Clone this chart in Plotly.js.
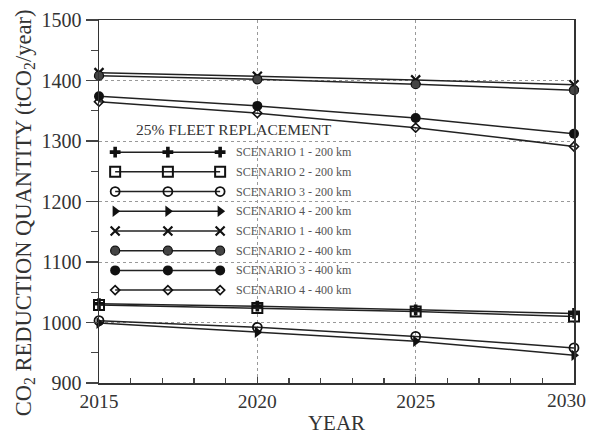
<!DOCTYPE html>
<html><head><meta charset="utf-8">
<script src="https://cdn.plot.ly/plotly-3.0.1.min.js"></script>
<style>html,body{margin:0;padding:0;background:#fff}#c{width:590px;height:444px}</style>
</head><body><div id="c"></div>
<script>
const years = [2015, 2020, 2025, 2030];
const yearLabels = ["2015", "2020", "2025", "2030"];
const names = ["SCENARIO 1 - 200 km","SCENARIO 2 - 200 km","SCENARIO 3 - 200 km","SCENARIO 4 - 200 km",
               "SCENARIO 1 - 400 km","SCENARIO 2 - 400 km","SCENARIO 3 - 400 km","SCENARIO 4 - 400 km"];
const s1_200 = [1031, 1027, 1021, 1015];
const s2_200 = [1029, 1024, 1018, 1010];
const s3_200 = [1003, 992, 977, 958];
const s4_200 = [999, 984, 969, 946];
const s1_400 = [1413, 1407, 1401, 1393];
const s2_400 = [1408, 1402, 1394, 1384];
const s3_400 = [1374, 1358, 1338, 1312];
const s4_400 = [1365, 1346, 1322, 1291];
const series = [s1_200, s2_200, s3_200, s4_200, s1_400, s2_400, s3_400, s4_400];
const legendTitle = "25% FLEET REPLACEMENT";
const yTitle = 'CO<sub>2</sub> REDUCTION QUANTITY (tCO<sub>2</sub>/year)';

const styles = [
  {symbol:'cross', size:9, color:'#111', line:{width:0}},
  {symbol:'square-open', size:10, color:'#111', line:{width:2}},
  {symbol:'circle-open', size:9, color:'#111', line:{width:1.8}},
  {symbol:'triangle-right', size:10, color:'#111', line:{width:0}},
  {symbol:'x-thin-open', size:9, color:'#111', line:{width:2.2}},
  {symbol:'circle', size:9, color:'#444', line:{width:1.2, color:'#111'}},
  {symbol:'circle', size:10, color:'#111', line:{width:0}},
  {symbol:'diamond-open', size:7, color:'#111', line:{width:1.6}}
];

const traces = [];
series.forEach((s, i) => {
  traces.push({x: years, y: s, type:'scatter', mode:'lines+markers', name:names[i], showlegend:false,
    line:{color:'#222', width:1.5}, marker:Object.assign({}, styles[i], {line:Object.assign({color:'#111'}, styles[i].line)}),
    cliponaxis:false});
});

// legend samples drawn on a hidden overlay axis (fractions of plot area)
const legX = [0.034, 0.145, 0.255];
const legY0 = 0.636, legDy = 0.0543;
const annotations = [];
names.forEach((n, i) => {
  const yy = legY0 - i*legDy;
  traces.push({x: legX, y: [yy, yy, yy], xaxis:'x2', yaxis:'y2', type:'scatter', mode:'lines+markers', showlegend:false,
    hoverinfo:'skip', line:{color:'#222', width:1.5}, marker:Object.assign({}, styles[i], {line:Object.assign({color:'#111'}, styles[i].line)})});
  annotations.push({xref:'x2', yref:'y2', x:0.285, y:yy, text:n, showarrow:false, xanchor:'left', yanchor:'middle',
    font:{family:'Liberation Serif, serif', size:12, color:'#555'}});
});
annotations.push({xref:'x2', yref:'y2', x:0.285, y:0.697, text:legendTitle, showarrow:false, xanchor:'center', yanchor:'middle',
  font:{family:'Liberation Serif, serif', size:15.5, color:'#333'}});
// last x tick label, nudged left so it stays inside the page
annotations.push({xref:'x', yref:'paper', x:years[3], y:0, text:yearLabels[3], showarrow:false, xanchor:'right', yanchor:'top',
  xshift:14, yshift:-5, font:{family:'Liberation Serif, serif', size:19.5, color:'#333'}});
// y-axis title
annotations.push({xref:'paper', yref:'paper', x:-0.156, y:0.47, text:yTitle, showarrow:false, textangle:-90,
  xanchor:'center', yanchor:'middle', font:{family:'Liberation Serif, serif', size:22.5, color:'#333'}});

const layout = {
  width:590, height:444,
  margin:{l:99, r:16, t:20, b:61},
  paper_bgcolor:'#fff', plot_bgcolor:'#fff',
  font:{family:'Liberation Serif, serif', color:'#222'},
  showlegend:false,
  xaxis:{range:[2015, 2030], tickvals:years, ticktext:yearLabels.slice(0,3).concat(['']), ticks:'inside', ticklen:6, tickwidth:1.5,
    minor:{dtick:1, ticks:'inside', ticklen:5, tickwidth:1.3, showgrid:false},
    showline:true, linecolor:'#333', linewidth:1.5, mirror:true,
    showgrid:true, gridcolor:'#999', griddash:'dot', gridwidth:1, zeroline:false,
    tickfont:{size:19.5, color:'#333'},
    title:{text:'YEAR', font:{size:21, color:'#333'}, standoff:4}},
  yaxis:{range:[900, 1500], dtick:100, ticks:'outside', ticklen:12, tickwidth:1.5,
    minor:{dtick:50, ticks:'outside', ticklen:7, tickwidth:1.3, showgrid:false},
    showline:true, linecolor:'#333', linewidth:1.5, mirror:true,
    showgrid:true, gridcolor:'#999', griddash:'dot', gridwidth:1, zeroline:false,
    tickfont:{size:20, color:'#333'}},
  xaxis2:{overlaying:'x', range:[0,1], visible:false, fixedrange:true},
  yaxis2:{overlaying:'y', range:[0,1], visible:false, fixedrange:true},
  annotations: annotations
};
Plotly.newPlot('c', traces, layout, {staticPlot:true});
</script></body></html>
